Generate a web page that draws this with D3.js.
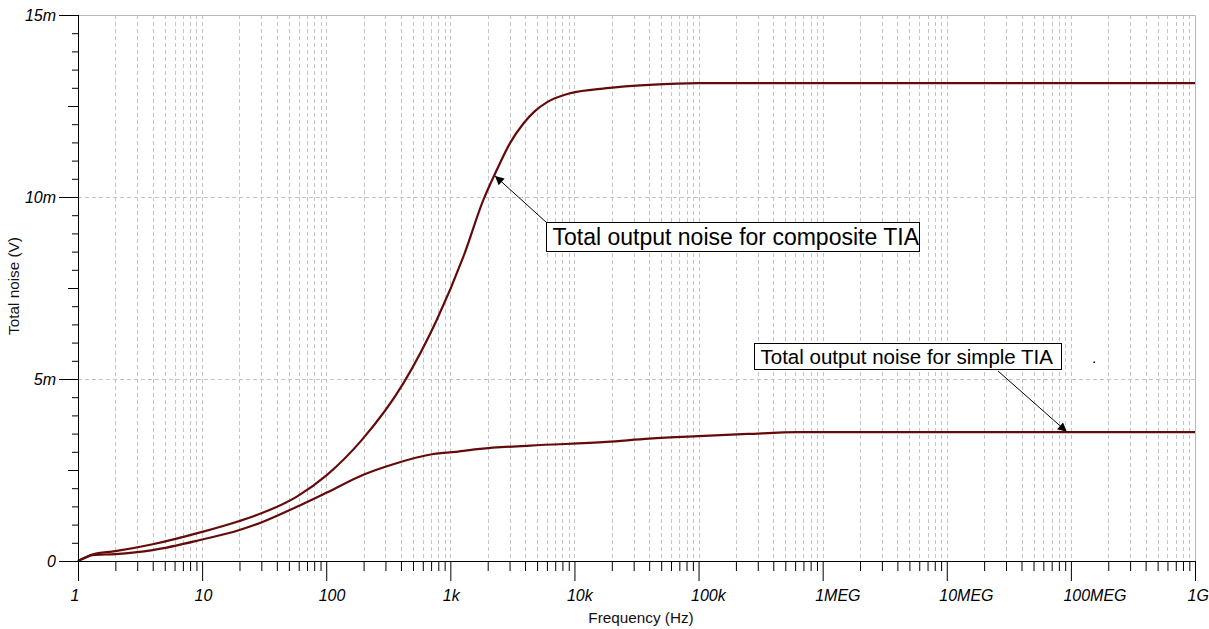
<!DOCTYPE html>
<html>
<head>
<meta charset="utf-8">
<script src="https://cdn.jsdelivr.net/npm/d3@7"></script>
<style>
  body { margin: 0; background: #fff; }
  svg { display: block; font-family: "Liberation Sans", Arial, sans-serif; }
</style>
</head>
<body>
<div id="chart"></div>
<script>
// frequency points (Hz) and total noise (mV)
var compositeFreq = [1, 1.15, 1.3, 2, 4, 10, 20, 30, 58, 101, 193, 418, 777, 1274, 1846, 2366, 3027, 3880, 4800, 5986, 9220, 18200, 40000, 100000, 1e9];
var compositeNoise = [0, 0.10, 0.18, 0.27, 0.46, 0.80, 1.10, 1.31, 1.77, 2.36, 3.32, 4.88, 6.62, 8.36, 9.92, 10.74, 11.48, 12.02, 12.36, 12.60, 12.85, 12.99, 13.08, 13.13, 13.13];

var simpleFreq = [1, 1.15, 1.3, 2, 4, 10, 20, 30, 58, 101, 199, 347, 730, 1110, 1733, 4370, 18200, 40000, 100000, 250000, 630000, 1e9];
var simpleNoise = [0, 0.09, 0.16, 0.19, 0.30, 0.59, 0.85, 1.06, 1.49, 1.88, 2.37, 2.66, 2.94, 3.0, 3.08, 3.17, 3.27, 3.36, 3.43, 3.49, 3.54, 3.54];

var xTicks = [1, 10, 100, 1e3, 1e4, 1e5, 1e6, 1e7, 1e8, 1e9];
var xTickLabels = ["1", "10", "100", "1k", "10k", "100k", "1MEG", "10MEG", "100MEG", "1G"];
var yTicks = [0, 5, 10, 15];
var yTickLabels = ["0", "5m", "10m", "15m"];

var width = 1209, height = 629;
var mLeft = 78, mRight = 1195, mTop = 15, mBottom = 561;
var lineColor = "#650a0a";

var svg = d3.select("#chart").append("svg")
  .attr("width", width)
  .attr("height", height);

var x = d3.scaleLog().domain([1, 1e9]).range([mLeft, mRight]);
var y = d3.scaleLinear().domain([0, 15]).range([mBottom, mTop]);

// minor decade values 2..9
var minorX = [];
for (var d = 0; d < 9; d++) {
  for (var k = 2; k <= 9; k++) minorX.push(k * Math.pow(10, d));
}
var minorY = d3.range(0, 15.01, 0.5).filter(function(v) { return v % 2.5 != 0; });
var midY = d3.range(0, 15.01, 2.5).filter(function(v) { return v % 5 != 0; });

// grid
var grid = svg.append("g").attr("class", "grid");
grid.selectAll("line.vx")
  .data(minorX.concat(xTicks.slice(1, -1)))
  .enter().append("line")
  .attr("x1", function(d) { return Math.round(x(d)) + 0.5; })
  .attr("x2", function(d) { return Math.round(x(d)) + 0.5; })
  .attr("y1", mTop).attr("y2", mBottom)
  .attr("stroke", "#c4c4c4")
  .attr("stroke-dasharray", "4,3");

grid.selectAll("line.hy")
  .data([5, 10])
  .enter().append("line")
  .attr("x1", mLeft).attr("x2", mRight)
  .attr("y1", function(d) { return Math.round(y(d)) + 0.5; })
  .attr("y2", function(d) { return Math.round(y(d)) + 0.5; })
  .attr("stroke", "#c4c4c4")
  .attr("stroke-dasharray", "4,3");

// top and right border
svg.append("path")
  .attr("d", "M" + mLeft + "," + (mTop + 0.5) + "H" + (mRight + 0.5) + "V" + mBottom)
  .attr("fill", "none")
  .attr("stroke", "#b8b8b8");

// curves
var line = d3.line()
  .x(function(d) { return x(d[0]); })
  .y(function(d) { return y(d[1]); })
  .curve(d3.curveMonotoneX);

svg.append("path")
  .datum(d3.zip(simpleFreq, simpleNoise))
  .attr("d", line)
  .attr("fill", "none")
  .attr("stroke", lineColor)
  .attr("stroke-width", 2.2);

svg.append("path")
  .datum(d3.zip(compositeFreq, compositeNoise))
  .attr("d", line)
  .attr("fill", "none")
  .attr("stroke", lineColor)
  .attr("stroke-width", 2.2);

// x axis
var xMinorAxis = d3.axisBottom(x).tickValues(minorX).tickSize(10).tickFormat("");
var xAxis = d3.axisBottom(x).tickValues(xTicks).tickSize(20)
  .tickFormat(function(d, i) { return xTickLabels[i]; });

svg.append("g").attr("transform", "translate(0," + mBottom + ")").call(xMinorAxis)
  .call(function(g) { g.select(".domain").remove(); });
var gx = svg.append("g").attr("transform", "translate(0," + mBottom + ")").call(xAxis);
gx.select(".domain").attr("d", "M" + mLeft + ",0.5H" + mRight);
gx.selectAll(".tick text")
  .attr("x", -8).attr("y", 29)
  .attr("text-anchor", "start")
  .attr("font-family", "Liberation Sans, Arial, sans-serif")
  .attr("font-size", 16)
  .attr("font-style", "italic")
  .attr("fill", "#000");

// y axis
var yMinorAxis = d3.axisLeft(y).tickValues(minorY).tickSize(6).tickFormat("");
var yMidAxis = d3.axisLeft(y).tickValues(midY).tickSize(10).tickFormat("");
var yAxis = d3.axisLeft(y).tickValues(yTicks).tickSize(19)
  .tickFormat(function(d, i) { return yTickLabels[i]; });

svg.append("g").attr("transform", "translate(" + mLeft + ",0)").call(yMinorAxis)
  .call(function(g) { g.select(".domain").remove(); });
svg.append("g").attr("transform", "translate(" + mLeft + ",0)").call(yMidAxis)
  .call(function(g) { g.select(".domain").remove(); });
var gy = svg.append("g").attr("transform", "translate(" + mLeft + ",0)").call(yAxis);
gy.select(".domain").attr("d", "M0.5," + mTop + "V" + mBottom);
gy.selectAll(".tick text")
  .attr("x", -22)
  .attr("font-family", "Liberation Sans, Arial, sans-serif")
  .attr("font-size", 16)
  .attr("font-style", "italic")
  .attr("fill", "#000");

svg.selectAll(".tick line").attr("stroke", "#000");

// axis titles
svg.append("text")
  .attr("x", 641).attr("y", 623)
  .attr("text-anchor", "middle")
  .attr("font-size", 15.3)
  .attr("fill", "#111")
  .text("Frequency (Hz)");

svg.append("text")
  .attr("transform", "translate(19,286) rotate(-90)")
  .attr("text-anchor", "middle")
  .attr("font-size", 15.3)
  .attr("fill", "#111")
  .text("Total noise (V)");

// annotations
svg.append("defs").append("marker")
  .attr("id", "arrow")
  .attr("viewBox", "0 0 10 10")
  .attr("refX", 10).attr("refY", 5)
  .attr("markerWidth", 14).attr("markerHeight", 9)
  .attr("markerUnits", "userSpaceOnUse")
  .attr("orient", "auto")
  .append("path")
  .attr("d", "M0,0L10,5L0,10z")
  .attr("fill", "#000");

var notes = [
  { text: "Total output noise for composite TIA", bx: 546.5, by: 222.5, bw: 373, bh: 29, size: 23, from: [546.5, 222.5], tip: [2290, 10.58] },
  { text: "Total output noise for simple TIA", bx: 754.5, by: 343.5, bw: 307, bh: 26, size: 20.5, from: [998, 371], tip: [9.27e7, 3.55] }
];

notes.forEach(function(n) {
  svg.append("line")
    .attr("x1", n.from[0]).attr("y1", n.from[1])
    .attr("x2", x(n.tip[0])).attr("y2", y(n.tip[1]))
    .attr("stroke", "#000")
    .attr("stroke-width", 1)
    .attr("marker-end", "url(#arrow)");
  svg.append("rect")
    .attr("x", n.bx).attr("y", n.by)
    .attr("width", n.bw).attr("height", n.bh)
    .attr("fill", "#fff")
    .attr("stroke", "#000");
  svg.append("text")
    .attr("x", n.bx + 6).attr("y", n.by + n.bh / 2)
    .attr("dy", "0.36em")
    .attr("font-size", n.size)
    .attr("fill", "#000")
    .text(n.text);
});

svg.append("rect")
  .attr("x", 1093.5).attr("y", 361.5)
  .attr("width", 1.5).attr("height", 1.5)
  .attr("fill", "#000");
</script>
</body>
</html>
